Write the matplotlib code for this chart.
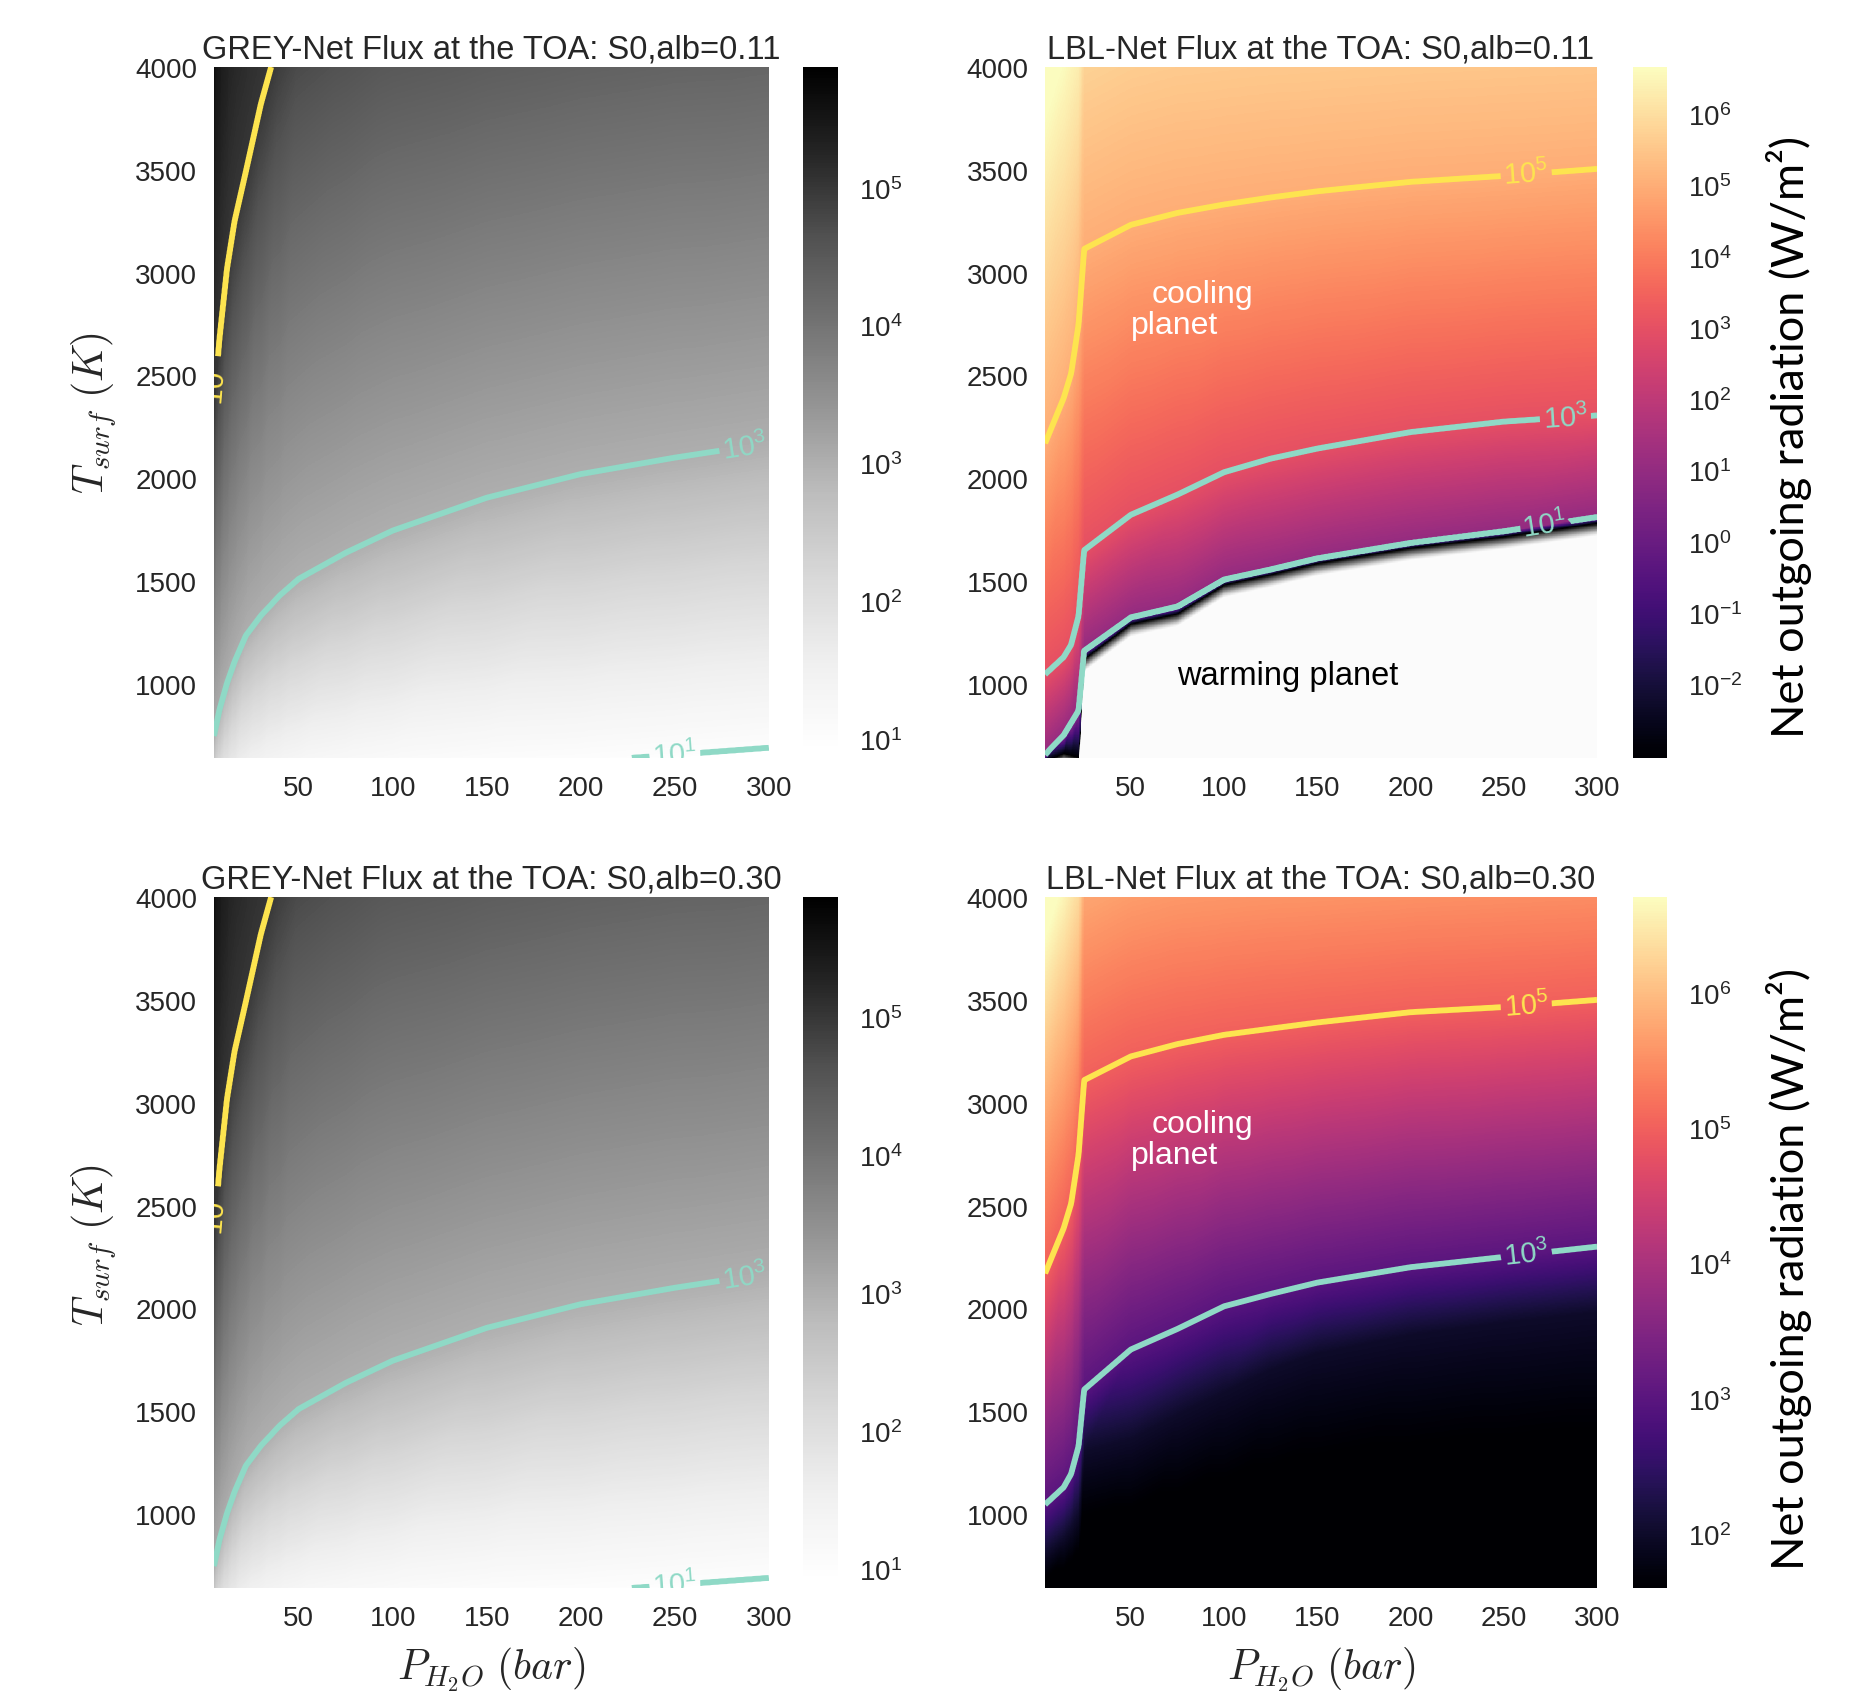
import numpy as np
import matplotlib
matplotlib.use("Agg")
import matplotlib.pyplot as plt
import matplotlib.tri as mtri
from matplotlib.colors import LogNorm, Normalize
from matplotlib.cm import ScalarMappable

plt.rcParams['font.family'] = ['Liberation Sans', 'DejaVu Sans']

# grey model: surface temperature (K) where log10(net flux) reaches each level
grey_p = [2, 5, 8, 12, 16, 22, 30, 40, 50, 75, 100, 150, 200, 250, 300]
grey_levels = [-1, 1, 3, 5, 7]
grey_t_m1 = [55, 75, 89, 101, 112, 124, 135, 144, 152, 165, 176, 192, 203, 212, 219]
grey_t_1e1 = [173, 236, 279, 319, 352, 392, 424, 454, 479, 520, 554, 600, 622, 655, 689]
grey_t_1e3 = [545, 745, 875, 1004, 1108, 1235, 1332, 1430, 1510, 1637, 1745, 1905, 2020, 2100, 2170]
grey_t_1e5 = [1722, 2355, 2680, 3020, 3250, 3491, 3820, 4150, 4389, 4591, 4772, 4898, 4997, 5069, 5100]
grey_t_1e7 = [5440, 7440, 8400, 9500, 10300, 11000, 12000, 13000, 13700, 14900, 15900, 17400, 18400, 19200, 19800]

# line-by-line model, alb=0.11 (t_zero = where the net flux changes sign)
lbl_p = [4, 14, 18, 22, 25, 50, 75, 100, 125, 150, 200, 250, 300]
lbl011_t_zero = [620, 660, 650, 640, 1120, 1290, 1340, 1480, 1530, 1585, 1660, 1715, 1780]
lbl011_t_1e1 = [655, 750, 810, 870, 1160, 1322, 1375, 1506, 1555, 1609, 1684, 1741, 1810]
lbl011_t_1e3 = [1046, 1130, 1190, 1330, 1650, 1822, 1920, 2029, 2095, 2144, 2224, 2275, 2305]
lbl011_t_1e5 = [2169, 2390, 2510, 2750, 3115, 3232, 3290, 3331, 3365, 3395, 3441, 3470, 3504]
lbl011_top_log = [6.9, 6.6, 6.45, 6.3, 5.75, 5.65, 5.6, 5.58, 5.56, 5.55, 5.52, 5.5, 5.48]

# line-by-line model, alb=0.30
lbl030_t_1e2 = [800, 880, 930, 1000, 1300, 1360, 1480, 1590, 1700, 1780, 1870, 1930, 1980]
lbl030_t_1e3 = [1046, 1130, 1195, 1330, 1605, 1800, 1900, 2010, 2070, 2125, 2200, 2250, 2300]
lbl030_t_1e5 = [2169, 2390, 2510, 2750, 3110, 3225, 3285, 3330, 3360, 3390, 3440, 3465, 3500]
lbl030_top_log = [6.9, 6.6, 6.45, 6.3, 5.75, 5.65, 5.6, 5.58, 5.56, 5.55, 5.52, 5.5, 5.48]

YELLOW = '#fde44f'
CYAN = '#8fd9c6'
TICK_C = '#262626'
T_LIM = (640, 4000)


def level_mesh(p, rows):
    # quads between consecutive iso-level rows, split in two triangles
    n = len(p)
    x = np.tile(np.asarray(p, float), len(rows))
    y = np.concatenate([np.broadcast_to(np.asarray(r, float), (n,)) for r in rows])
    tris = []
    for k in range(len(rows) - 1):
        for i in range(n - 1):
            a = k * n + i
            tris += [[a, a + 1, a + n + 1], [a, a + n + 1, a + n]]
    return mtri.Triangulation(x, y, tris)


def stack(vals, n):
    return np.concatenate([np.broadcast_to(np.asarray(v, float), (n,)) for v in vals])


def field_image(ax, tri, z, cmap, norm, xmin, log=True):
    # sample the mesh field on a pixel grid and show it as an image
    xi = np.linspace(xmin, 300, 900)
    yi = np.linspace(T_LIM[0], T_LIM[1], 1100)
    X, Y = np.meshgrid(xi, yi)
    zi = mtri.LinearTriInterpolator(tri, z)(X, Y)
    data = 10 ** zi if log else zi
    ax.imshow(data, extent=[xmin, 300, T_LIM[0], T_LIM[1]], origin='lower', aspect='auto',
              cmap=cmap, norm=norm, interpolation='nearest')
    return X, Y, zi


def fmt(v):
    return r'$\mathdefault{10^{%d}}$' % round(v)


def style(ax, xmin):
    ax.set_xlim(xmin, 300)
    ax.set_ylim(*T_LIM)
    ax.set_xticks([50, 100, 150, 200, 250, 300])
    ax.set_yticks([1000, 1500, 2000, 2500, 3000, 3500, 4000])
    for s in ax.spines.values():
        s.set_visible(False)
    ax.tick_params(length=0, pad=12, labelsize=20, labelcolor=TICK_C)


def style_cbar(cb, ticks):
    cb.outline.set_visible(False)
    cb.set_ticks(ticks)
    cb.ax.minorticks_off()
    cb.ax.tick_params(length=0, pad=15, labelsize=20, labelcolor=TICK_C)


def add_contours(ax, field, levels, colors, spots):
    cs = ax.contour(*field, levels=levels, colors=colors, linewidths=4.2)
    ax.clabel(cs, inline=True, fmt=fmt, fontsize=21, manual=spots, inline_spacing=3)


fig = plt.figure(figsize=(18.51, 16.99), dpi=100)

ax_pos = {'tl': [0.1156, 0.5533, 0.2998, 0.4067], 'tr': [0.5646, 0.5533, 0.2982, 0.4067],
          'bl': [0.1156, 0.0647, 0.2998, 0.4067], 'br': [0.5646, 0.0647, 0.2982, 0.4067]}
cb_pos = {'tl': [0.4338, 0.5574, 0.0189, 0.4026], 'tr': [0.8822, 0.5533, 0.0184, 0.4067],
          'bl': [0.4338, 0.0689, 0.0189, 0.4026], 'br': [0.8822, 0.0647, 0.0184, 0.4067]}

# grey panels
grey_tri = level_mesh(grey_p, [grey_t_m1, grey_t_1e1, grey_t_1e3, grey_t_1e5, grey_t_1e7])
grey_z = stack(grey_levels, len(grey_p))
grey_norm = LogNorm(8.2, 7.5e5)
for key, alb in [('tl', '0.11'), ('bl', '0.30')]:
    ax = fig.add_axes(ax_pos[key])
    field = field_image(ax, grey_tri, grey_z, 'Greys', grey_norm, 5)
    add_contours(ax, field, [1, 3, 5], [CYAN, CYAN, YELLOW],
                 [(287, 2160), (250, 662), (5.4, 2470)])
    style(ax, 5)
    ax.set_title('GREY-Net Flux at the TOA: S0,alb=' + alb, fontsize=23.5, pad=7, color=TICK_C)
    cax = fig.add_axes(cb_pos[key])
    cb = fig.colorbar(ScalarMappable(norm=grey_norm, cmap='Greys'), cax=cax)
    style_cbar(cb, [1e1, 1e2, 1e3, 1e4, 1e5])

# LBL alb=0.11
n = len(lbl_p)
ax = fig.add_axes(ax_pos['tr'])
# warming region: dark rim fading to white below the sign change
shade_tri = level_mesh(lbl_p, [500, np.array(lbl011_t_zero) - 60, lbl011_t_zero])
field_image(ax, shade_tri, stack([0, 0, 1], n), 'Greys', Normalize(-0.03, 1), 4, log=False)
tri = level_mesh(lbl_p, [lbl011_t_zero, lbl011_t_1e1, lbl011_t_1e3, lbl011_t_1e5, 4000])
z = stack([-3, 1, 3, 5, lbl011_top_log], n)
norm_top = LogNorm(9.3e-4, 4.6e6)
field = field_image(ax, tri, z, 'magma', norm_top, 4)
add_contours(ax, field, [1, 3, 5], [CYAN, CYAN, YELLOW],
             [(262, 3480), (283, 2300), (272, 1775)])
style(ax, 4)
ax.set_title('LBL-Net Flux at the TOA: S0,alb=0.11', fontsize=23.5, pad=7, color=TICK_C)
ax.text(61, 2897, 'cooling', color='white', fontsize=23, va='center')
ax.text(50, 2747, 'planet', color='white', fontsize=23, va='center')
ax.text(75, 1040, 'warming planet', color='black', fontsize=23.5, va='center')
cax = fig.add_axes(cb_pos['tr'])
cb = fig.colorbar(ScalarMappable(norm=norm_top, cmap='magma'), cax=cax)
style_cbar(cb, [1e-2, 1e-1, 1e0, 1e1, 1e2, 1e3, 1e4, 1e5, 1e6])

# LBL alb=0.30
ax = fig.add_axes(ax_pos['br'])
tri = level_mesh(lbl_p, [500, lbl030_t_1e2, lbl030_t_1e3, lbl030_t_1e5, 4000])
z = stack([1, 2, 3, 5, lbl030_top_log], n)
norm_bot = LogNorm(40, 5.1e6)
field = field_image(ax, tri, z, 'magma', norm_bot, 4)
add_contours(ax, field, [3, 5], [CYAN, YELLOW], [(262, 3480), (262, 2270)])
style(ax, 4)
ax.set_title('LBL-Net Flux at the TOA: S0,alb=0.30', fontsize=23.5, pad=7, color=TICK_C)
ax.text(61, 2897, 'cooling', color='white', fontsize=23, va='center')
ax.text(50, 2747, 'planet', color='white', fontsize=23, va='center')
cax = fig.add_axes(cb_pos['br'])
cb = fig.colorbar(ScalarMappable(norm=norm_bot, cmap='magma'), cax=cax)
style_cbar(cb, [1e2, 1e3, 1e4, 1e5, 1e6])

# axis labels
for y in [0.757, 0.267]:
    fig.text(0.051, y, r'$T_{surf}$ $(K)$', rotation=90, ha='center', va='center',
             fontsize=30, math_fontfamily='cm', color=TICK_C)
    fig.text(0.9665, y - 0.014, 'Net outgoing radiation (W/m²)', rotation=90, ha='center',
             va='center', fontsize=32.5, family='Lato', color='black')
for x in [0.2655, 0.7137]:
    fig.text(x, 0.017, r'$P_{H_2O}$ $(bar)$', ha='center', va='center',
             fontsize=30, math_fontfamily='cm', color=TICK_C)

fig.savefig('out.png', dpi=100)
